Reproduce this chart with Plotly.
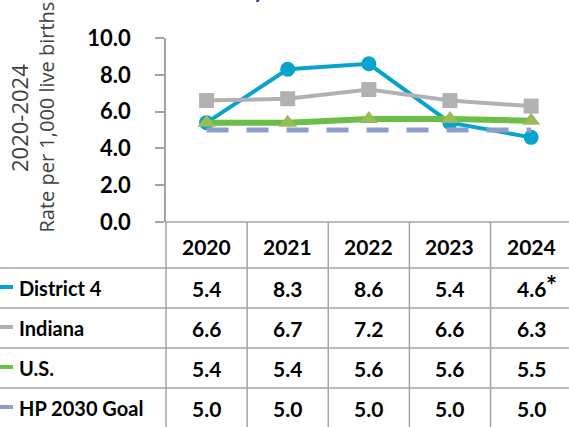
import plotly.graph_objects as go

W, H = 569, 427

years = ["2020", "2021", "2022", "2023", "2024"]
series_names = ["District 4", "Indiana", "U.S.", "HP 2030 Goal"]
district4 = [5.4, 8.3, 8.6, 5.4, 4.6]
indiana = [6.6, 6.7, 7.2, 6.6, 6.3]
us = [5.4, 5.4, 5.6, 5.6, 5.5]
goal = [5.0, 5.0, 5.0, 5.0, 5.0]
district4_flags = ["", "", "", "", "*"]
y_ticks = [0, 2, 4, 6, 8, 10]
title_text = "Infant Mortality"
y_title_1 = "2020-2024"
y_title_2 = "Rate per 1,000 live births"

colors = ["#05A4CD", "#B1B1B1", "#6CBF46", "#8F9DCD"]
marker_colors = ["#05A4CD", "#B1B1B1", "#9BBB59", None]
FONT = "Lato"
TITLE_FONT = "Open Sans"
GRID = "#A3A3A3"


def px_x(p):
    return p / W


def px_y(p):
    return 1 - p / H


fig = go.Figure()

all_values = [district4, indiana, us, goal]
fig.add_trace(go.Scatter(x=years, y=district4, name=series_names[0], mode="lines+markers",
                         line=dict(color=colors[0], width=4),
                         marker=dict(symbol="circle", size=15, color=marker_colors[0])))
fig.add_trace(go.Scatter(x=years, y=indiana, name=series_names[1], mode="lines+markers",
                         line=dict(color=colors[1], width=4),
                         marker=dict(symbol="square", size=15, color=marker_colors[1])))
fig.add_trace(go.Scatter(x=years, y=us, name=series_names[2], mode="lines+markers",
                         line=dict(color=colors[2], width=6),
                         marker=dict(symbol="triangle-up", size=16, color=marker_colors[2])))
fig.add_trace(go.Scatter(x=years, y=goal, name=series_names[3], mode="lines",
                         line=dict(color=colors[3], width=5, dash="22px,18px")))

plot_left, plot_top, plot_bottom = 166, 38, 222
header_top, header_bottom = 222, 268
row_h = 40

shapes = []
annotations = []

# table grid
shapes.append(dict(type="line", xref="paper", yref="paper", x0=px_x(plot_left), x1=1.01,
                   y0=px_y(header_top), y1=px_y(header_top), line=dict(color=GRID, width=1.5)))
for r in range(len(series_names)):
    yb = header_bottom + r * row_h
    shapes.append(dict(type="line", xref="paper", yref="paper", x0=0, x1=1.01,
                       y0=px_y(yb), y1=px_y(yb), line=dict(color=GRID, width=1.5)))
shapes.append(dict(type="line", xref="paper", yref="paper", x0=px_x(plot_left), x1=px_x(plot_left),
                   y0=px_y(header_top), y1=px_y(H + 2), line=dict(color=GRID, width=1.5)))
for i in range(len(years) - 1):
    shapes.append(dict(type="line", xref="x", yref="paper", x0=i + 0.5, x1=i + 0.5,
                       y0=px_y(header_top), y1=px_y(H + 2), line=dict(color=GRID, width=1.5)))

cell_font = dict(family=FONT, size=21, color="#000000", weight="bold")
label_font = dict(family=FONT, size=20, color="#000000", weight="bold")

# header
for i, yr in enumerate(years):
    annotations.append(dict(x=i, xref="x", y=px_y((header_top + header_bottom) / 2 + 1), yref="paper",
                            text=yr, showarrow=False, font=cell_font, xanchor="center", yanchor="middle"))

# rows
for r, (name, vals) in enumerate(zip(series_names, all_values)):
    cy = header_bottom + r * row_h + row_h / 2
    shapes.append(dict(type="line", xref="paper", yref="paper", x0=px_x(-2), x1=px_x(13),
                       y0=px_y(cy - 1), y1=px_y(cy - 1), line=dict(color=colors[r], width=4)))
    annotations.append(dict(x=px_x(17), xref="paper", y=px_y(cy), yref="paper", text=name,
                            showarrow=False, font=label_font, xanchor="left", yanchor="middle"))
    for i, v in enumerate(vals):
        annotations.append(dict(x=i, xref="x", y=px_y(cy), yref="paper", text=f"{v:.1f}",
                                showarrow=False, font=cell_font, xanchor="center", yanchor="middle"))
        if r == 0 and district4_flags[i]:
            annotations.append(dict(x=i + 0.255, xref="x", y=px_y(cy - 3), yref="paper",
                                    text=district4_flags[i], showarrow=False,
                                    font=dict(family=FONT, size=26, color="#000000", weight="bold"),
                                    xanchor="center", yanchor="middle"))

# y-axis titles
annotations.append(dict(x=px_x(36), xref="paper", y=px_y(118), yref="paper", text=y_title_1,
                        textangle=-90, showarrow=False,
                        font=dict(family=TITLE_FONT, size=22, color="#404040"),
                        xanchor="right", yanchor="middle"))
annotations.append(dict(x=px_x(61), xref="paper", y=px_y(117), yref="paper", text=y_title_2,
                        textangle=-90, showarrow=False,
                        font=dict(family=TITLE_FONT, size=20, color="#404040"),
                        xanchor="right", yanchor="middle"))

# partially visible title
annotations.append(dict(x=px_x(267), xref="paper", y=px_y(5), yref="paper", text=title_text,
                        showarrow=False, font=dict(family=FONT, size=22, color="#1F3E96", weight="bold"),
                        xanchor="right", yanchor="bottom"))

fig.update_layout(
    width=W, height=H,
    margin=dict(l=0, r=0, t=0, b=0),
    paper_bgcolor="white", plot_bgcolor="white",
    showlegend=False,
    shapes=shapes, annotations=annotations,
    xaxis=dict(domain=[px_x(plot_left), 1], type="category", range=[-0.5, 4.467],
               showticklabels=False, showgrid=False, zeroline=False, showline=False, ticks=""),
    yaxis=dict(domain=[px_y(plot_bottom), px_y(plot_top)], range=[0, 10], tickvals=y_ticks,
               tickformat=".1f", showgrid=False, zeroline=False, showline=True, linecolor=GRID,
               linewidth=1.5, ticks="outside", ticklen=9, tickcolor=GRID, tickwidth=1.5,
               ticklabelstandoff=20, automargin=False,
               tickfont=dict(family=FONT, size=22, color="#000000", weight="bold")),
)

fig.write_html("out.html", config={"displayModeBar": False},
               post_script="document.body.style.margin='0';document.body.style.overflow='hidden';")
